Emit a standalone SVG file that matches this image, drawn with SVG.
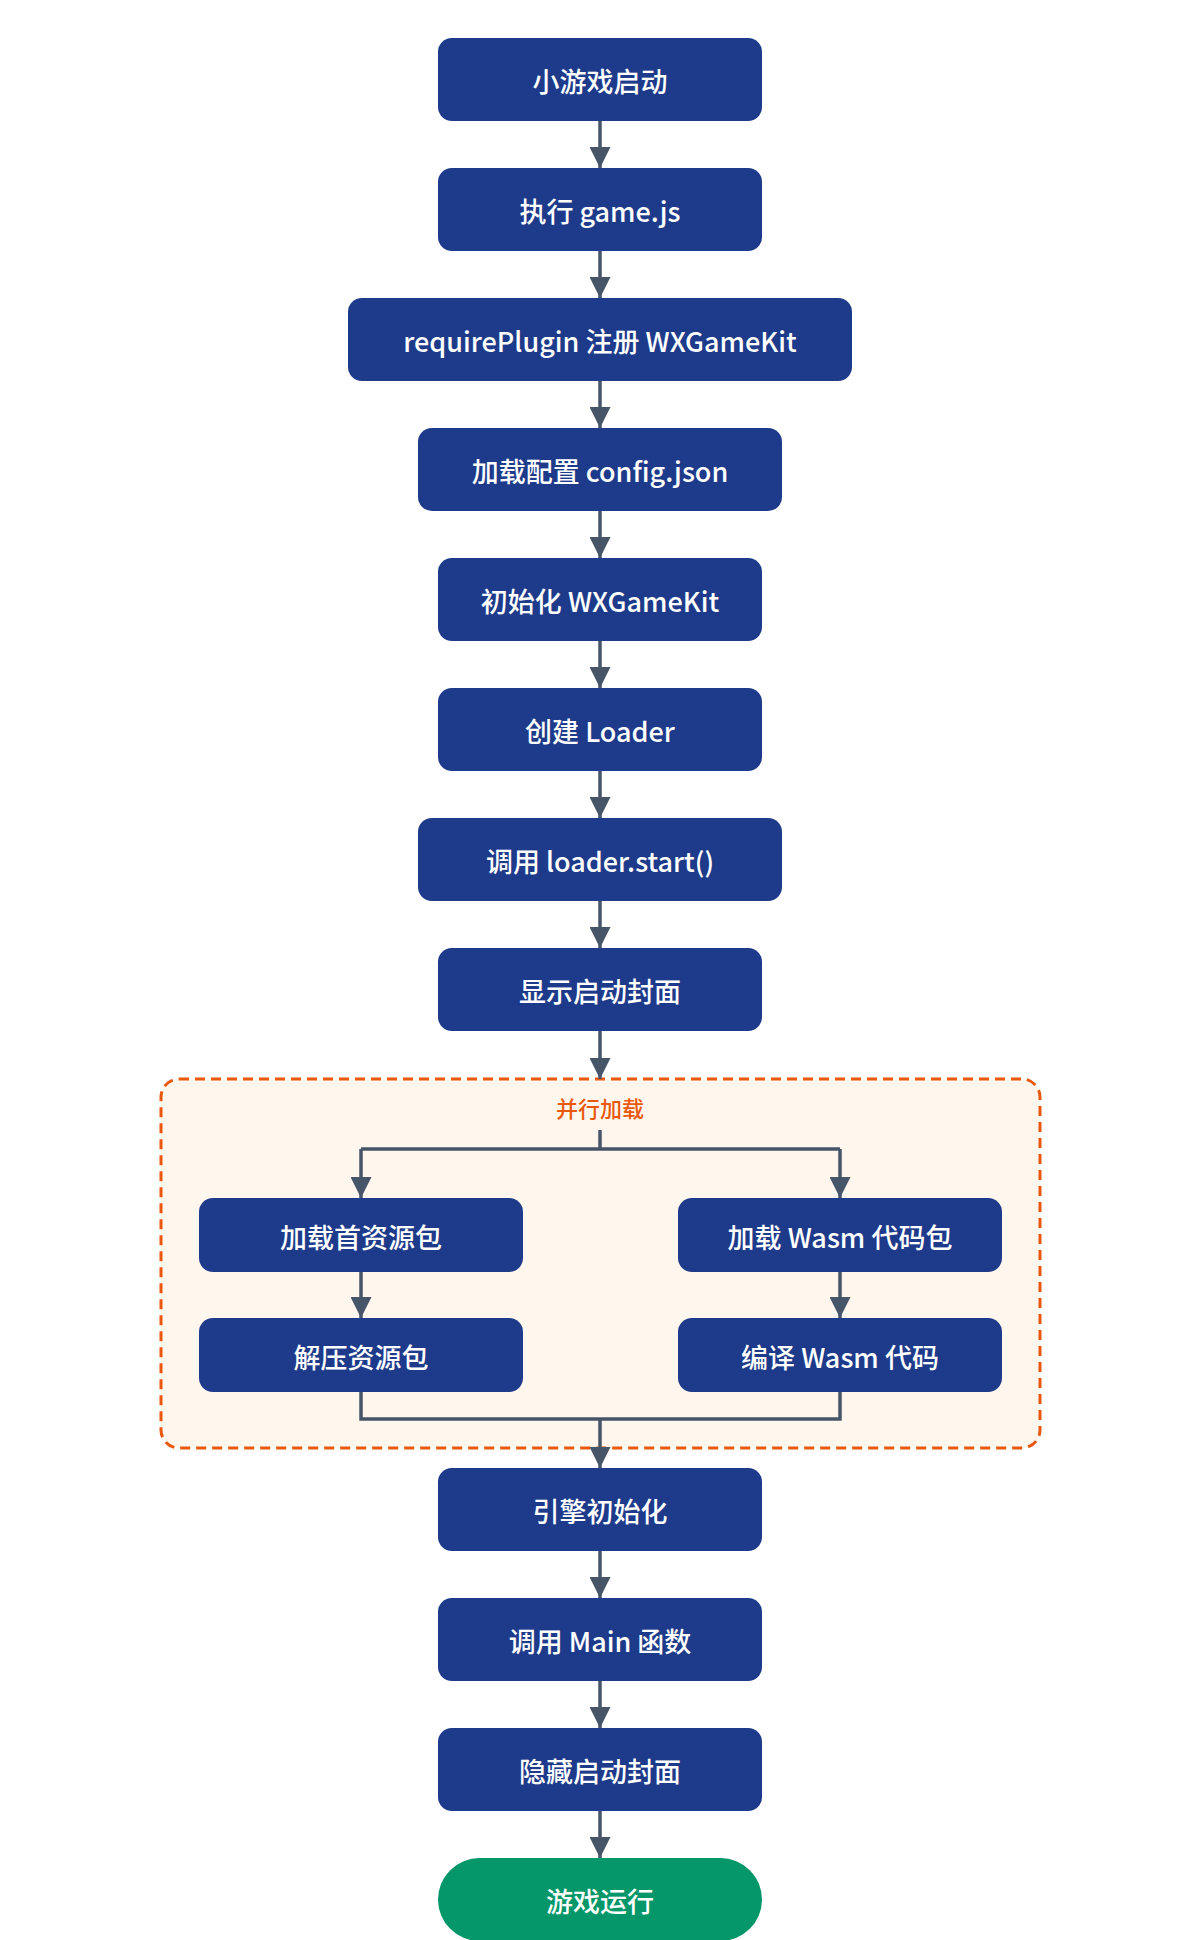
<svg xmlns="http://www.w3.org/2000/svg" width="1200" height="1940" viewBox="0 0 1200 1940">
<defs>
<style>
.n{fill:#1e3a8a}
.t{fill:#fff;font-family:"Noto Sans CJK SC",sans-serif;font-size:27px;font-weight:500;text-anchor:middle;dominant-baseline:central}
.c{stroke:#475569;stroke-width:3.5;fill:none}
</style>
<marker id="a" viewBox="0 0 10 10" refX="10" refY="5" markerWidth="6" markerHeight="6" markerUnits="strokeWidth" orient="auto"><path d="M0,0L10,5L0,10z" fill="#475569"/></marker>
</defs>
<rect width="1200" height="1940" fill="#fff"/>
<g id="parallel">
<rect x="161" y="1079" width="879" height="369" rx="18" fill="#fff7ed" stroke="#ea580c" stroke-width="3" stroke-dasharray="10,6"/>
<text x="600" y="1107" style="fill:#ea580c;font-family:'Noto Sans CJK SC',sans-serif;font-size:22px;font-weight:500;text-anchor:middle;dominant-baseline:central">并行加载</text>
</g>
<g id="connectors">
<path class="c" marker-end="url(#a)" d="M600 121V168"/>
<path class="c" marker-end="url(#a)" d="M600 251V298"/>
<path class="c" marker-end="url(#a)" d="M600 381V428"/>
<path class="c" marker-end="url(#a)" d="M600 511V558"/>
<path class="c" marker-end="url(#a)" d="M600 641V688"/>
<path class="c" marker-end="url(#a)" d="M600 771V818"/>
<path class="c" marker-end="url(#a)" d="M600 901V948"/>
<path class="c" marker-end="url(#a)" d="M600 1031V1079"/>
<path class="c" d="M600 1130V1149M361 1149H840"/>
<path class="c" marker-end="url(#a)" d="M361 1149V1198"/>
<path class="c" marker-end="url(#a)" d="M840 1149V1198"/>
<path class="c" marker-end="url(#a)" d="M361 1272V1318"/>
<path class="c" marker-end="url(#a)" d="M840 1272V1318"/>
<path class="c" d="M361 1392V1419H840V1392"/>
<path class="c" marker-end="url(#a)" d="M600 1419V1468"/>
<path class="c" marker-end="url(#a)" d="M600 1551V1598"/>
<path class="c" marker-end="url(#a)" d="M600 1681V1728"/>
<path class="c" marker-end="url(#a)" d="M600 1811V1858"/>
</g>
<g id="n1"><rect class="n" x="438" y="38" width="324" height="83" rx="14"/><text class="t" x="600" y="80">小游戏启动</text></g>
<g id="n2"><rect class="n" x="438" y="168" width="324" height="83" rx="14"/><text class="t" x="600" y="210">执行 game.js</text></g>
<g id="n3"><rect class="n" x="348" y="298" width="504" height="83" rx="14"/><text class="t" x="600" y="340">requirePlugin 注册 WXGameKit</text></g>
<g id="n4"><rect class="n" x="418" y="428" width="364" height="83" rx="14"/><text class="t" x="600" y="470">加载配置 config.json</text></g>
<g id="n5"><rect class="n" x="438" y="558" width="324" height="83" rx="14"/><text class="t" x="600" y="600">初始化 WXGameKit</text></g>
<g id="n6"><rect class="n" x="438" y="688" width="324" height="83" rx="14"/><text class="t" x="600" y="730">创建 Loader</text></g>
<g id="n7"><rect class="n" x="418" y="818" width="364" height="83" rx="14"/><text class="t" x="600" y="860">调用 loader.start()</text></g>
<g id="n8"><rect class="n" x="438" y="948" width="324" height="83" rx="14"/><text class="t" x="600" y="990">显示启动封面</text></g>
<g id="n9"><rect class="n" x="199" y="1198" width="324" height="74" rx="14"/><text class="t" x="361" y="1236">加载首资源包</text></g>
<g id="n10"><rect class="n" x="678" y="1198" width="324" height="74" rx="14"/><text class="t" x="840" y="1236">加载 Wasm 代码包</text></g>
<g id="n11"><rect class="n" x="199" y="1318" width="324" height="74" rx="14"/><text class="t" x="361" y="1356">解压资源包</text></g>
<g id="n12"><rect class="n" x="678" y="1318" width="324" height="74" rx="14"/><text class="t" x="840" y="1356">编译 Wasm 代码</text></g>
<g id="n13"><rect class="n" x="438" y="1468" width="324" height="83" rx="14"/><text class="t" x="600" y="1510">引擎初始化</text></g>
<g id="n14"><rect class="n" x="438" y="1598" width="324" height="83" rx="14"/><text class="t" x="600" y="1640">调用 Main 函数</text></g>
<g id="n15"><rect class="n" x="438" y="1728" width="324" height="83" rx="14"/><text class="t" x="600" y="1770">隐藏启动封面</text></g>
<g id="n16"><rect x="438" y="1858" width="324" height="83" rx="41.5" fill="#059669"/><text class="t" x="600" y="1900">游戏运行</text></g>
</svg>
